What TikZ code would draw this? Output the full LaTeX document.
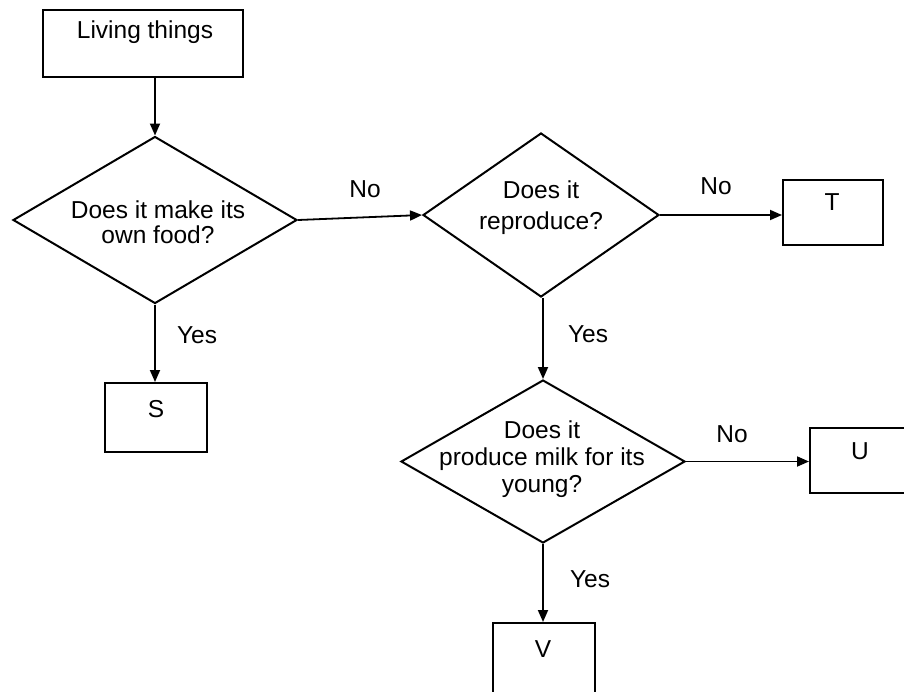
\documentclass[tikz,border=0pt]{standalone}
\usepackage{fontspec}
\setmainfont{Liberation Sans}
\usetikzlibrary{shapes.geometric,arrows.meta}
\begin{document}
\begin{tikzpicture}[x=1pt,y=-1pt,
  every node/.style={font=\fontsize{24.5}{28}\selectfont},
  box/.style={draw, line width=2pt, rectangle, inner sep=0pt},
  dec/.style={draw, line width=2pt, diamond, inner sep=0pt},
  txt/.style={inner sep=0pt, align=center},
  conn/.style={line width=1.8pt, -{Triangle[length=12pt,width=10pt]}},
]
\useasboundingbox (0,0) rectangle (904,691);

% boxes
\node[box, minimum width=200pt, minimum height=67pt] (living) at (143,43.5) {};
\node[txt, anchor=base] (livingtxt) at (145,38) {Living things};

\node[box, minimum width=102pt, minimum height=69pt] (S) at (156,417.5) {};
\node[txt, anchor=base] (Stxt) at (156,417) {S};

\node[box, minimum width=100pt, minimum height=65pt] (T) at (833,212.5) {};
\node[txt, anchor=base] (Ttxt) at (832,210) {T};

\node[box, minimum width=100pt, minimum height=65pt] (U) at (860,460.5) {};
\node[txt, anchor=base] (Utxt) at (860,459) {U};

\node[box, minimum width=102pt, minimum height=90pt] (V) at (544,668) {};
\node[txt, anchor=base] (Vtxt) at (543,657) {V};

% decisions
\node[dec, minimum width=284pt, minimum height=167pt] (d1) at (155,220) {};
\node[txt, font=\fontsize{24.5}{25}\selectfont] (d1txt) at (158,222.5) {Does it make its\\own food?};

\node[dec, minimum width=236pt, minimum height=164pt] (d2) at (541,215) {};
\node[txt, font=\fontsize{24.5}{31}\selectfont] (d2txt) at (541,207.5) {Does it\\reproduce?};

\node[dec, minimum width=284pt, minimum height=163pt] (d3) at (543,461.5) {};
\node[txt, font=\fontsize{24.5}{27}\selectfont] (d3txt) at (542,459) {Does it\\produce milk for its\\young?};

% connectors
\draw[conn] (d1.north |- living.south) -- (d1.north);
\draw[conn] (d1.east) -- (d2.west);
\draw[conn] (d2.east) -- (d2.east -| T.west);
\draw[conn] (d1.south) -- (d1.south |- S.north);
\draw[conn] (d3.north |- d2.south) -- (d3.north);
\draw[conn] (d3.east) -- (d3.east -| U.west);
\draw[conn] (d3.south) -- (d3.south |- V.north);

% labels
\node[txt, anchor=base] (no1) at (365,197) {No};
\node[txt, anchor=base] (no2) at (716,194) {No};
\node[txt, anchor=base] (no3) at (732,442) {No};
\node[txt, anchor=base] (yes1) at (197,343) {Yes};
\node[txt, anchor=base] (yes2) at (588,342) {Yes};
\node[txt, anchor=base] (yes3) at (590,587) {Yes};
\end{tikzpicture}
\end{document}
